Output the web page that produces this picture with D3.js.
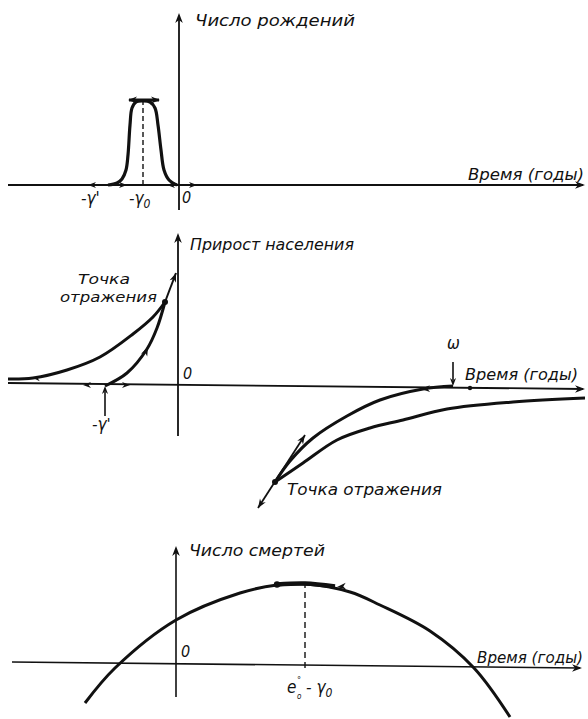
<!DOCTYPE html>
<html>
<head>
<meta charset="utf-8">
<script src="https://cdn.jsdelivr.net/npm/d3@7"></script>
<style>
  body { margin: 0; background: #fff; }
  text { font-family: "DejaVu Sans Condensed", "DejaVu Sans", sans-serif; font-style: italic; fill: #111; }
</style>
</head>
<body>
<svg id="chart" width="588" height="719"></svg>
<script>
// ---- data (time units, value units; 0 = axis origin) ----
const birthT = [-6.9, -6.0, -5.5, -5.1, -4.9, -4.7, -4.5, -4.1, -3.4, -2.7, -2.2, -1.9, -1.6, -1.3, -0.8, 0]
const birthV = [0, 0.2, 0.6, 1.5, 3.0, 6.0, 7.7, 8.3, 8.4, 8.3, 7.7, 6.0, 3.5, 1.5, 0.5, 0]

const growthUpT = [-16.9, -14.4, -11, -7.7, -4.4, -2.4, -1.2]
const growthUpV = [0.7, 0.8, 1.6, 2.9, 5.2, 6.9, 8.4]
const growthLowT = [-7.2, -5.0, -3.0, -2.0, -1.2]
const growthLowV = [0, 1.3, 3.7, 5.8, 8.4]

const growthInT = [27.6, 24.6, 20.3, 17, 13.6, 11.3, 9.8]
const growthInV = [0, -0.3, -1.4, -3.0, -5.2, -7.5, -9.6]
const growthOutT = [9.8, 12.6, 16, 19.3, 22.6, 27, 33.6, 40.8]
const growthOutV = [-9.6, -7.7, -5.4, -4.2, -3.4, -2.3, -1.6, -1.2]

const deathT = [-9.2, -6.2, -0.1, 6.3, 10, 12.8, 17.3, 20.3, 25.3, 29.7, 33.3]
const deathV = [-3.5, 0, 4.8, 7.5, 8.3, 8.4, 7.6, 6.3, 3.7, 0, -4.9]

const titles = ['Число рождений', 'Прирост населения', 'Число смертей']
const timeLabel = 'Время (годы)'
const inflection = ['Точка', 'отражения', 'Точка отражения']

const W = 588, H = 719
const svg = d3.select('#chart')

const x = d3.scaleLinear().domain([-17.7, 41.1]).range([0, W])
const yBirth = d3.scaleLinear().domain([0, 10]).range([185, 85])
const yGrowth = d3.scaleLinear().domain([0, 10]).range([386, 286])
const yDeath = d3.scaleLinear().domain([0, 10]).range([668, 568])

const zip = (a, b) => a.map((d, i) => [d, b[i]])
const curve = ys => d3.line().x(d => x(d[0])).y(d => ys(d[1])).curve(d3.curveCatmullRom.alpha(0.5))

// small filled arrow head, pointing along angle (degrees)
function head(px, py, ang, s) {
  s = s || 8
  svg.append('path')
     .attr('d', `M0,0 L${-s},${-s * 0.38} L${-s * 0.7},0 L${-s},${s * 0.38} Z`)
     .attr('transform', `translate(${px},${py}) rotate(${ang})`)
     .style('fill', '#111')
}
function seg(x1, y1, x2, y2, w, dash) {
  svg.append('line')
     .attr('x1', x1).attr('y1', y1).attr('x2', x2).attr('y2', y2)
     .style('stroke', '#111').style('stroke-width', w || 1.6)
     .style('stroke-dasharray', dash || null)
}
function label(txt, px, py, size, len) {
  const t = svg.append('text').attr('x', px).attr('y', py)
     .style('font-size', (size || 15) + 'px').text(txt)
  if (len) t.attr('textLength', len).attr('lengthAdjust', 'spacingAndGlyphs')
  return t
}
const angle = (x1, y1, x2, y2) => Math.atan2(y2 - y1, x2 - x1) * 180 / Math.PI

// ============ panel 1: births ============
seg(x(-16.9), yBirth(0), x(40.6), yBirth(0), 1.8)
head(x(40.8), yBirth(0), 0, 10)
seg(x(0.2), yBirth(-2.5), x(0.2), yBirth(16.6), 1.8)
head(x(0.2), yBirth(17.2), -90, 10)

svg.append('path').datum(zip(birthT, birthV))
   .attr('d', curve(yBirth))
   .style('fill', 'none').style('stroke', '#111').style('stroke-width', 3.2)

seg(x(-3.4), yBirth(0), x(-3.4), yBirth(8.3), 1.4, '5,3')
seg(x(-4.8), yBirth(8.5), x(-1.8), yBirth(8.5), 3)
head(x(-4.9), yBirth(8.5), 180, 9)
head(x(-1.7), yBirth(8.5), 0, 9)

head(x(-8.9), yBirth(0), 180, 8)
head(x(-5.0), yBirth(0), 0, 8)
head(x(-1.0), yBirth(0), 180, 8)
head(x(2.0), yBirth(0), 0, 8)

label(titles[0], 195, 26, 15, 160)
label(timeLabel, 468, 180, 15, 116)
label("-γ'", 81, 204, 17)
const g0 = label('-γ', 129, 204, 17)
g0.append('tspan').attr('dy', 4).style('font-size', '12px').text('0')
label('0', 182, 203, 16)

// ============ panel 2: population growth ============
seg(x(-16.9), yGrowth(0.3), x(40.6), yGrowth(-0.3), 1.8)
head(x(40.8), yGrowth(-0.3), 0, 10)
seg(x(0.1), yGrowth(-5.0), x(0.1), yGrowth(14.7), 1.8)
head(x(0.1), yGrowth(15.3), -90, 10)

const growthCurves = [zip(growthUpT, growthUpV), zip(growthLowT, growthLowV),
                      zip(growthInT, growthInV), zip(growthOutT, growthOutV)]
svg.selectAll('path.growth').data(growthCurves).enter()
   .append('path').attr('class', 'growth')
   .attr('d', curve(yGrowth))
   .style('fill', 'none').style('stroke', '#111').style('stroke-width', 3)

// left inflection point and tangent
const ipL = [-1.2, 8.4], tipL = [-0.1, 11.3]
seg(x(ipL[0]), yGrowth(ipL[1]), x(tipL[0]), yGrowth(tipL[1]), 2)
head(x(tipL[0]), yGrowth(tipL[1]), angle(x(ipL[0]), yGrowth(ipL[1]), x(tipL[0]), yGrowth(tipL[1])), 9)
svg.append('circle').attr('cx', x(ipL[0])).attr('cy', yGrowth(ipL[1])).attr('r', 3).style('fill', '#111')
head(x(-2.9), yGrowth(3.9), angle(x(-3.0), yGrowth(3.7), x(-2.0), yGrowth(5.8)), 9)
head(x(-14.4), yGrowth(0.8), 185, 7)
head(x(-9.4), yGrowth(0.1), 180, 8)
head(x(-4.7), yGrowth(0.1), 0, 8)
// -γ' marker arrow
seg(x(-7.2), yGrowth(-3.0), x(-7.2), yGrowth(-0.6), 1.6)
head(x(-7.2), yGrowth(0), -90, 8)

// right inflection point and tangent
const ipR = [9.8, -9.6], tA = [8.1, -12.2], tB = [12.8, -4.9]
seg(x(tA[0]), yGrowth(tA[1]), x(tB[0]), yGrowth(tB[1]), 1.8)
head(x(tB[0]), yGrowth(tB[1]), angle(x(tA[0]), yGrowth(tA[1]), x(tB[0]), yGrowth(tB[1])), 9)
head(x(tA[0]), yGrowth(tA[1]), angle(x(tB[0]), yGrowth(tB[1]), x(tA[0]), yGrowth(tA[1])), 9)
svg.append('circle').attr('cx', x(ipR[0])).attr('cy', yGrowth(ipR[1])).attr('r', 3).style('fill', '#111')
head(x(24.4), yGrowth(-0.3), 178, 9)
svg.append('circle').attr('cx', x(29.3)).attr('cy', yGrowth(-0.2)).attr('r', 2.2).style('fill', '#111')
// omega
seg(x(27.6), yGrowth(2.4), x(27.6), yGrowth(0.6), 1.6)
head(x(27.6), yGrowth(0), 90, 8)

label(titles[1], 190, 250, 15, 164)
label(inflection[0], 78, 284, 14, 52)
label(inflection[1], 60, 302, 14, 97)
label('0', 183, 379, 16)
label('ω', 447, 349, 17)
label(timeLabel, 465, 380, 15, 113)
label(inflection[2], 287, 495, 15, 155)
// the lower label is cut off in the source scan
svg.append('clipPath').attr('id', 'cut').append('rect')
   .attr('x', 80).attr('y', 418).attr('width', 60).attr('height', 20)
label("-γ'", 92, 430, 17).attr('clip-path', 'url(#cut)')

// ============ panel 3: deaths ============
seg(x(-16.5), yDeath(0.6), x(40.3), yDeath(0), 1.6)
head(x(40.5), yDeath(0), 0, 10)
seg(x(-0.1), yDeath(-2.9), x(-0.1), yDeath(11.6), 1.6)
head(x(-0.1), yDeath(12.2), -90, 10)

svg.append('path').datum(zip(deathT, deathV))
   .attr('d', curve(yDeath))
   .style('fill', 'none').style('stroke', '#111').style('stroke-width', 3)

seg(x(12.8), yDeath(0), x(12.8), yDeath(8.4), 1.4, '6,4')
svg.append('path').datum(zip([10, 12.8, 15.8], [8.35, 8.45, 8.15]))
   .attr('d', curve(yDeath))
   .style('fill', 'none').style('stroke', '#111').style('stroke-width', 4.5)
svg.append('circle').attr('cx', x(10)).attr('cy', yDeath(8.35)).attr('r', 3.2).style('fill', '#111')
head(x(16), yDeath(8.1), 175, 9)

label(titles[2], 189, 556, 15, 136)
label('0', 181, 657, 16)
label(timeLabel, 477, 663, 15, 106)
// e°₀ − γ₀ : small marks stacked to the right of the e
label('e', 287, 693, 17)
label('°', 297, 683, 9)
label('o', 297, 699, 8)
const gam = label('- γ', 306, 693, 17)
gam.append('tspan').attr('dy', 4).style('font-size', '12px').text('0')
</script>
</body>
</html>
